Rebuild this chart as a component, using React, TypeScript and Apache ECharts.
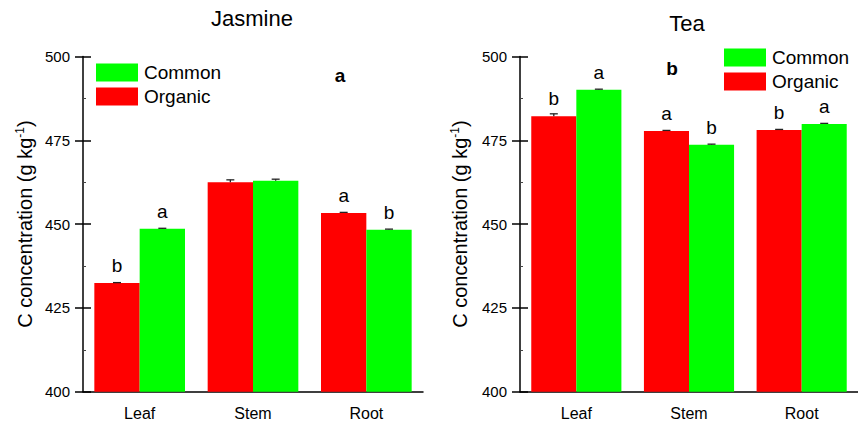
import React, { useEffect, useRef } from 'react';
import * as echarts from 'echarts';

// Plant parts on the category axis
const categories = ['Leaf', 'Stem', 'Root'];

// Jasmine: C concentration (g kg-1)
const jasmineOrganic = [432.4, 462.5, 453.3];
const jasmineCommon = [448.6, 462.9, 448.3];
const jasmineOrganicErr = [0.15, 0.7, 0.2];
const jasmineCommonErr = [0.15, 0.5, 0.2];
const jasmineOrganicLetters = ['b', '', 'a'];
const jasmineCommonLetters = ['a', '', 'b'];

// Tea: C concentration (g kg-1)
const teaOrganic = [482.2, 477.8, 478.1];
const teaCommon = [490.1, 473.7, 479.9];
const teaOrganicErr = [0.7, 0.15, 0.15];
const teaCommonErr = [0.15, 0.15, 0.15];
const teaOrganicLetters = ['b', 'a', 'b'];
const teaCommonLetters = ['a', 'b', 'a'];

// Value axis range and step
const yMin = 400;
const yMax = 500;
const yStep = 25;

const FONT = '"Liberation Sans", Arial, Helvetica, sans-serif';
const RED = '#ff0000';
const GREEN = '#00ff00';
const AXIS = '#000000';

type Panel = {
  left: number;
  organic: number[];
  common: number[];
  organicErr: number[];
  commonErr: number[];
  organicLetters: string[];
  commonLetters: string[];
};

const panels: Panel[] = [
  {
    left: 83,
    organic: jasmineOrganic,
    common: jasmineCommon,
    organicErr: jasmineOrganicErr,
    commonErr: jasmineCommonErr,
    organicLetters: jasmineOrganicLetters,
    commonLetters: jasmineCommonLetters,
  },
  {
    left: 520,
    organic: teaOrganic,
    common: teaCommon,
    organicErr: teaOrganicErr,
    commonErr: teaCommonErr,
    organicLetters: teaOrganicLetters,
    commonLetters: teaCommonLetters,
  },
];

// Upper half of an error bar with a cap, placed over the matching bar
const errorBar = (sign: number) => (_params: any, api: any) => {
  const i = api.value(0);
  const v = api.value(1);
  const e = api.value(2);
  const cw = api.size([1, 0])[0];
  const base = api.coord([i, v]);
  const top = api.coord([i, v + e]);
  const x = base[0] + sign * cw * 0.2;
  const style = { stroke: '#222', lineWidth: 1.3 };
  return {
    type: 'group',
    children: [
      { type: 'line', shape: { x1: x, y1: base[1], x2: x, y2: top[1] }, style },
      { type: 'line', shape: { x1: x - 4, y1: top[1], x2: x + 4, y2: top[1] }, style },
    ],
  };
};

function buildOption() {
  const grid: any[] = [];
  const xAxis: any[] = [];
  const yAxis: any[] = [];
  const series: any[] = [];

  panels.forEach((p, k) => {
    grid.push({ left: p.left, top: 56.5, width: 340, height: 335.2, containLabel: false });

    // main category axis: labels and outward half of the crossing ticks
    xAxis.push({
      type: 'category',
      gridIndex: k,
      data: categories,
      axisLine: { lineStyle: { color: AXIS, width: 1.5 } },
      axisTick: { alignWithLabel: true, length: 8, lineStyle: { color: AXIS, width: 1.5 } },
      axisLabel: { color: '#000', fontSize: 16, fontFamily: FONT, margin: 14 },
      splitLine: { show: false },
    });
    // inward half of the crossing ticks
    xAxis.push({
      type: 'category',
      gridIndex: k,
      data: categories,
      position: 'bottom',
      axisLine: { show: false },
      axisTick: { inside: true, alignWithLabel: true, length: 8, lineStyle: { color: AXIS, width: 1.5 } },
      axisLabel: { show: false },
      splitLine: { show: false },
    });
    // small ticks at category boundaries
    xAxis.push({
      type: 'category',
      gridIndex: k,
      data: categories,
      position: 'bottom',
      axisLine: { show: false },
      axisTick: { inside: true, alignWithLabel: false, length: 3, lineStyle: { color: '#444', width: 1 } },
      axisLabel: { show: false },
      splitLine: { show: false },
    });

    yAxis.push({
      type: 'value',
      gridIndex: k,
      min: yMin,
      max: yMax,
      interval: yStep,
      name: '{t|C concentration (g kg}{s|-1}{t|)}',
      nameLocation: 'middle',
      nameGap: k === 0 ? 47 : 49,
      nameRotate: 90,
      nameTextStyle: {
        rich: {
          t: { fontSize: 20, fontFamily: FONT, color: '#000' },
          s: { fontSize: 12, fontFamily: FONT, color: '#000', padding: [0, 0, 10, 0] },
        },
      },
      axisLine: { show: true, lineStyle: { color: AXIS, width: 1.5 } },
      axisTick: { show: true, length: 8, lineStyle: { color: AXIS, width: 1.5 } },
      axisLabel: { color: '#000', fontSize: 15, fontFamily: FONT, margin: 13 },
      splitLine: { show: false },
    });
    yAxis.push({
      type: 'value',
      gridIndex: k,
      min: yMin,
      max: yMax,
      interval: yStep,
      position: 'left',
      axisLine: { show: false },
      axisTick: { show: true, inside: true, length: 8, lineStyle: { color: AXIS, width: 1.5 } },
      minorTick: { show: true, splitNumber: 2, length: 3, lineStyle: { color: '#444', width: 1 } },
      axisLabel: { show: false },
      splitLine: { show: false },
    });

    const xi = k * 3;
    const yi = k * 2;
    const letterLabel = (letters: string[]) => ({
      show: true,
      position: 'top',
      distance: 8,
      color: '#000',
      fontSize: 19,
      fontFamily: FONT,
      formatter: (prm: any) => letters[prm.dataIndex],
    });

    series.push({
      name: 'Organic',
      type: 'bar',
      xAxisIndex: xi,
      yAxisIndex: yi,
      data: p.organic,
      barGap: '0%',
      barCategoryGap: '20%',
      itemStyle: { color: RED },
      label: letterLabel(p.organicLetters),
    });
    series.push({
      name: 'Common',
      type: 'bar',
      xAxisIndex: xi,
      yAxisIndex: yi,
      data: p.common,
      barGap: '0%',
      barCategoryGap: '20%',
      itemStyle: { color: GREEN },
      label: letterLabel(p.commonLetters),
    });
    series.push({
      name: 'Organic SE',
      type: 'custom',
      xAxisIndex: xi,
      yAxisIndex: yi,
      z: 5,
      data: p.organic.map((v, i) => [i, v, p.organicErr[i]]),
      encode: { x: 0, y: 1 },
      renderItem: errorBar(-1),
    });
    series.push({
      name: 'Common SE',
      type: 'custom',
      xAxisIndex: xi,
      yAxisIndex: yi,
      z: 5,
      data: p.common.map((v, i) => [i, v, p.commonErr[i]]),
      encode: { x: 0, y: 1 },
      renderItem: errorBar(1),
    });
  });

  const legendBase = {
    orient: 'vertical',
    icon: 'rect',
    padding: 0,
    itemWidth: 42,
    itemHeight: 18,
    itemGap: 5,
    selectedMode: false,
    data: ['Common', 'Organic'],
    textStyle: { fontSize: 19, fontFamily: FONT, color: '#000', padding: [0, 0, 0, 1] },
  };

  return {
    animation: false,
    backgroundColor: '#ffffff',
    grid,
    xAxis,
    yAxis,
    series,
    legend: [
      { ...legendBase, left: 96, top: 63 },
      { ...legendBase, left: 724, top: 48 },
    ],
    graphic: [
      {
        type: 'text',
        x: 252,
        y: 18,
        style: { text: 'Jasmine', font: `22px ${FONT}`, fill: '#000', textAlign: 'center', textVerticalAlign: 'middle' },
      },
      {
        type: 'text',
        x: 687,
        y: 23,
        style: { text: 'Tea', font: `22px ${FONT}`, fill: '#000', textAlign: 'center', textVerticalAlign: 'middle' },
      },
      {
        type: 'text',
        x: 340,
        y: 75,
        style: { text: 'a', font: `bold 19px ${FONT}`, fill: '#000', textAlign: 'center', textVerticalAlign: 'middle' },
      },
      {
        type: 'text',
        x: 672,
        y: 68,
        style: { text: 'b', font: `bold 19px ${FONT}`, fill: '#000', textAlign: 'center', textVerticalAlign: 'middle' },
      },
    ],
  };
}

export default function App() {
  const ref = useRef<HTMLDivElement>(null);
  useEffect(() => {
    if (!ref.current) return;
    const chart = echarts.init(ref.current, undefined, { renderer: 'svg' });
    chart.setOption(buildOption() as any);
    return () => chart.dispose();
  }, []);
  return (
    <div
      ref={ref}
      style={{ position: 'absolute', left: 0, top: 0, width: 858, height: 430, background: '#fff' }}
    />
  );
}
